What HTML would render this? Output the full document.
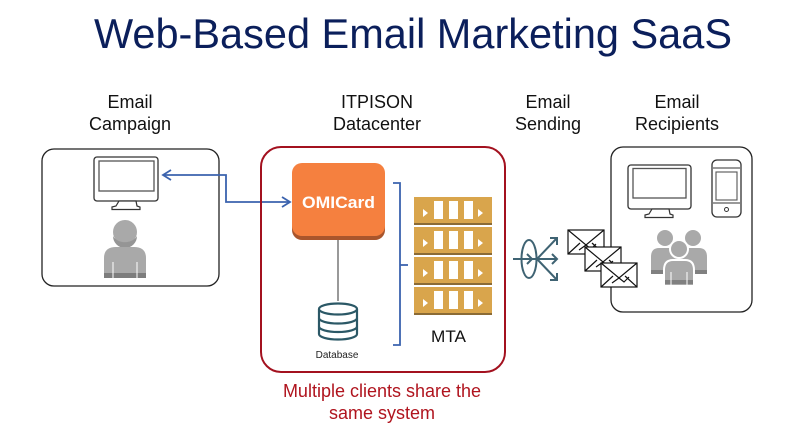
<!DOCTYPE html>
<html>
<head>
<meta charset="utf-8">
<style>
  html,body{margin:0;padding:0;background:#fff;}
  svg{display:block;}
  text{font-family:"Liberation Sans", Arial, sans-serif;}
</style>
</head>
<body>
<svg width="800" height="435" viewBox="0 0 800 435" xmlns="http://www.w3.org/2000/svg">
  <rect width="800" height="435" fill="#fff"/>

  <!-- Title -->
  <text x="94" y="48" font-size="42" fill="#0b1f5b" textLength="638" lengthAdjust="spacingAndGlyphs">Web-Based Email Marketing SaaS</text>

  <!-- Column labels -->
  <g font-size="18" fill="#111" text-anchor="middle">
    <text x="130" y="108">Email</text>
    <text x="130" y="130">Campaign</text>
    <text x="377" y="108">ITPISON</text>
    <text x="377" y="130">Datacenter</text>
    <text x="548" y="108">Email</text>
    <text x="548" y="130">Sending</text>
    <text x="677" y="108">Email</text>
    <text x="677" y="130">Recipients</text>
  </g>

  <!-- Left box -->
  <rect x="42" y="149" width="177" height="137" rx="12" fill="#fff" stroke="#222" stroke-width="1.3"/>
  <!-- left monitor -->
  <rect x="94" y="157" width="64" height="44" rx="3" fill="#fff" stroke="#333" stroke-width="1.3"/>
  <rect x="99" y="161" width="55" height="30" fill="#fff" stroke="#555" stroke-width="1.3"/>
  <polygon points="119,201 136,201 137,206 140,207 140,209.5 112,209.5 112,207 116,206" fill="#fff" stroke="#333" stroke-width="1.2"/>
  <!-- left person -->
  <circle cx="125" cy="232" r="12" fill="#a9a9a9"/>
  <path d="M113,236 A12,12 0 0 0 137,236 A13,10 0 0 1 113,236 Z" fill="#959595"/>
  <path d="M104,278 V258 Q104,247 116,247 H134 Q146,247 146,258 V278 Z" fill="#a9a9a9"/>
  <rect x="104" y="273" width="42" height="5" fill="#7d7d7d"/>
  <line x1="113" y1="262" x2="113" y2="278" stroke="#fff" stroke-width="1"/>
  <line x1="137" y1="262" x2="137" y2="278" stroke="#fff" stroke-width="1"/>

  <!-- Blue connector -->
  <g stroke="#3b63ae" stroke-width="1.8" fill="none">
    <polyline points="163,175 226,175 226,202 289,202"/>
    <polyline points="171,170 163,175 171,180"/>
    <polyline points="282,197 290,202 282,207"/>
  </g>

  <!-- Red datacenter box -->
  <rect x="261" y="147" width="244" height="225" rx="20" fill="none" stroke="#a3111f" stroke-width="2"/>

  <!-- OMICard -->
  <rect x="292" y="166" width="93" height="74" rx="10" fill="#a9552c"/>
  <rect x="292" y="163" width="93" height="73" rx="10" fill="#f5803f"/>
  <text x="338.5" y="208" font-size="17" font-weight="bold" fill="#fff" text-anchor="middle" textLength="73" lengthAdjust="spacingAndGlyphs">OMICard</text>

  <!-- connector to database -->
  <line x1="338" y1="240" x2="338" y2="301" stroke="#333" stroke-width="1"/>

  <!-- Database -->
  <g stroke="#2b5866" stroke-width="2.2" fill="#fff">
    <path d="M319,309 V334 A19,5.5 0 0 0 357,334 V309"/>
    <ellipse cx="338" cy="309" rx="19" ry="5.5"/>
    <path d="M319,318 A19,5.5 0 0 0 357,318" fill="none"/>
    <path d="M319,326.5 A19,5.5 0 0 0 357,326.5" fill="none"/>
  </g>
  <text x="337" y="358" font-size="10" fill="#222" text-anchor="middle">Database</text>

  <!-- Bracket -->
  <g stroke="#3b63ae" stroke-width="1.8" fill="none">
    <polyline points="393,183 400,183 400,345 393,345"/>
    <line x1="400" y1="265" x2="408" y2="265"/>
  </g>

  <!-- MTA servers -->
  <g id="bar0">
    <rect x="414" y="197" width="78" height="26" fill="#d9a54c"/>
    <rect x="414" y="223" width="78" height="2" fill="#8b6b35"/>
    <polygon points="423,209 423,217 428,213" fill="#fff"/>
    <rect x="434" y="201" width="9" height="18" fill="#fff"/>
    <rect x="449" y="201" width="9" height="18" fill="#fff"/>
    <rect x="464" y="201" width="9" height="18" fill="#fff"/>
    <polygon points="478,209 478,217 483,213" fill="#fff"/>
  </g>
  <use href="#bar0" transform="translate(0,30)"/>
  <use href="#bar0" transform="translate(0,60)"/>
  <use href="#bar0" transform="translate(0,90)"/>
  <text x="448.5" y="342" font-size="17" fill="#111" text-anchor="middle" textLength="35" lengthAdjust="spacingAndGlyphs">MTA</text>

  <!-- Bottom red caption -->
  <g font-size="18" fill="#b0141e" text-anchor="middle">
    <text x="382" y="397">Multiple clients share the</text>
    <text x="382" y="419">same system</text>
  </g>

  <!-- Broadcast icon -->
  <g stroke="#3f6373" stroke-width="2" fill="none">
    <ellipse cx="529" cy="259" rx="7.5" ry="19"/>
    <line x1="513" y1="259" x2="557" y2="259"/>
    <polyline points="527,254 532,259 527,264"/>
    <polyline points="552,254 557,259 552,264"/>
    <line x1="537" y1="259" x2="557" y2="238"/>
    <polyline points="550,238 557,238 557,245"/>
    <line x1="537" y1="259" x2="557" y2="280"/>
    <polyline points="550,280 557,280 557,273"/>
  </g>

  <!-- Right box -->
  <rect x="611" y="147" width="141" height="165" rx="12" fill="#fff" stroke="#222" stroke-width="1.3"/>

  <!-- Envelopes -->
  <g id="env" stroke="#111" stroke-width="1.2" fill="#fff">
    <rect x="568" y="230" width="36" height="24"/>
    <polyline points="568,230 586,245 604,230" fill="none"/>
    <polyline points="568,254 580,243" fill="none"/>
    <polyline points="604,254 592,243" fill="none"/>
    <polyline points="579,250 586,245 591,249 596,244" fill="none"/>
  </g>
  <use href="#env" transform="translate(17,17)"/>
  <use href="#env" transform="translate(33,33)"/>

  <!-- Right monitor -->
  <rect x="628" y="165" width="63" height="44" rx="3" fill="#fff" stroke="#333" stroke-width="1.3"/>
  <rect x="633" y="168.5" width="53" height="29.5" fill="#fff" stroke="#555" stroke-width="1.3"/>
  <polygon points="652,209 669,209 670,214 673,215 673,217.5 645,217.5 645,215 649,214" fill="#fff" stroke="#333" stroke-width="1.2"/>

  <!-- Phone -->
  <rect x="712" y="160" width="29" height="57" rx="5" fill="#fff" stroke="#333" stroke-width="1.3"/>
  <line x1="713" y1="168" x2="740" y2="168" stroke="#333" stroke-width="1.1"/>
  <rect x="716" y="172" width="21" height="28" fill="#fff" stroke="#555" stroke-width="1.1"/>
  <line x1="713" y1="203" x2="740" y2="203" stroke="#333" stroke-width="1.1"/>
  <circle cx="726.5" cy="209.5" r="2" fill="none" stroke="#333" stroke-width="1"/>

  <!-- People group -->
  <g fill="#a9a9a9">
    <circle cx="665" cy="238" r="8"/>
    <circle cx="693" cy="238" r="8"/>
    <path d="M651,274 V257 Q651,248 659,248 H671 Q679,248 679,257 V274 Z"/>
    <path d="M679,274 V257 Q679,248 687,248 H699 Q707,248 707,257 V274 Z"/>
    <rect x="651" y="270" width="28" height="4" fill="#808080"/>
    <rect x="679" y="270" width="28" height="4" fill="#808080"/>
  </g>
  <g fill="#a9a9a9" stroke="#fff" stroke-width="2">
    <circle cx="679" cy="249" r="9"/>
    <path d="M664,286 V270 Q664,260 673,260 H685 Q694,260 694,270 V286 Z"/>
  </g>
  <rect x="665" y="280" width="28" height="4" fill="#808080"/>
  <line x1="671" y1="272" x2="671" y2="285" stroke="#fff" stroke-width="1"/>
  <line x1="687" y1="272" x2="687" y2="285" stroke="#fff" stroke-width="1"/>
</svg>
</body>
</html>
